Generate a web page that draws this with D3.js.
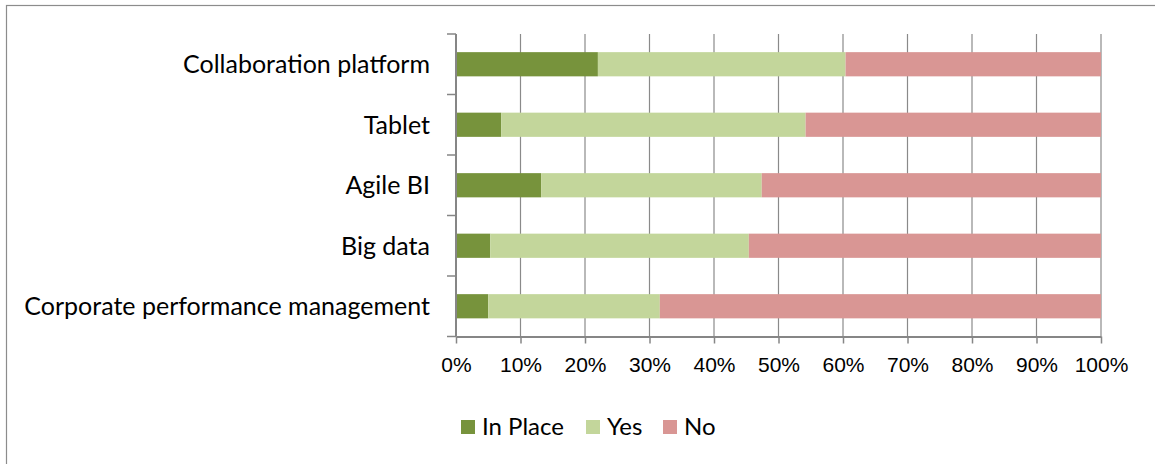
<!DOCTYPE html>
<html>
<head>
<meta charset="utf-8">
<script src="https://cdn.jsdelivr.net/npm/d3@7"></script>
<style>
  body { margin: 0; background: #fff; }
  svg { display: block; font-family: Lato, "Open Sans", sans-serif; }
</style>
</head>
<body>
<div id="chart"></div>
<script>
// data (percent of respondents)
var categories = ["Collaboration platform", "Tablet", "Agile BI", "Big data", "Corporate performance management"]
var series = ["In Place", "Yes", "No"]
var inPlace = [22.0, 7.0, 13.2, 5.3, 5.0]
var yes = [38.4, 47.2, 34.2, 40.1, 26.6]
var no = [39.6, 45.8, 52.6, 54.6, 68.4]
var colors = ["#77933C", "#C3D69B", "#D99694"]
var xTicks = [0, 0.1, 0.2, 0.3, 0.4, 0.5, 0.6, 0.7, 0.8, 0.9, 1]

var W = 1155, H = 464
var margin = { top: 34, left: 456, right: 54, bottom: 127.5 }
var width = W - margin.left - margin.right,
    height = H - margin.top - margin.bottom

var svg = d3.select("#chart").append("svg")
    .attr("width", W)
    .attr("height", H)

// outer frame
svg.append("rect")
    .attr("x", 6.5).attr("y", 5.5)
    .attr("width", W).attr("height", H)
    .attr("fill", "none")
    .attr("stroke", "#8c8c8c")
    .attr("stroke-width", 1.2)

var g = svg.append("g")
    .attr("transform", "translate(" + margin.left + "," + margin.top + ")")

// build the stacked table from the arrays
var rows = categories.map(function(c, i) {
    var total = inPlace[i] + yes[i] + no[i]
    return { cat: c, "In Place": inPlace[i] / total, "Yes": yes[i] / total, "No": no[i] / total }
})
var stacked = d3.stack().keys(series)(rows)

var x = d3.scaleLinear().domain([0, 1]).range([0, width])
var y = d3.scaleBand().domain(categories).range([0, height]).paddingInner(0.6).paddingOuter(0.3)
var yb = d3.scaleBand().domain(categories).range([0, height])

// vertical grid lines
g.append("g").selectAll("line")
    .data(xTicks.slice(1))
    .enter().append("line")
    .attr("x1", d => x(d)).attr("x2", d => x(d))
    .attr("y1", 0).attr("y2", height)
    .attr("stroke", "#8a8a8a")
    .attr("stroke-width", 1.2)

// bars
g.selectAll("g.series")
    .data(stacked)
    .enter().append("g")
    .attr("class", "series")
    .attr("fill", (d, i) => colors[i])
    .selectAll("rect")
    .data(d => d)
    .enter().append("rect")
    .attr("x", d => x(d[0]))
    .attr("y", d => y(d.data.cat))
    .attr("width", d => x(d[1]) - x(d[0]))
    .attr("height", y.bandwidth())

// x axis
var xAxis = g.append("g")
    .attr("transform", "translate(0," + height + ")")
    .call(d3.axisBottom(x).tickValues(xTicks).tickFormat(d3.format(".0%")).tickSize(7).tickSizeOuter(0).tickPadding(14))
xAxis.select(".domain").attr("stroke", "#868686").attr("stroke-width", 2)
xAxis.selectAll(".tick line").attr("stroke", "#868686").attr("stroke-width", 1.5)
xAxis.selectAll("text").attr("fill", "#000").style("font-size", "21px")

// y axis: ticks on band boundaries, labels in band centres
var yAxis = g.append("g")
yAxis.append("line")
    .attr("x1", 0).attr("x2", 0).attr("y1", 0).attr("y2", height)
    .attr("stroke", "#868686").attr("stroke-width", 2)
var bounds = categories.map(c => yb(c)).concat([height])
yAxis.selectAll("line.tk")
    .data(bounds)
    .enter().append("line")
    .attr("class", "tk")
    .attr("x1", -9).attr("x2", 0)
    .attr("y1", d => d).attr("y2", d => d)
    .attr("stroke", "#868686").attr("stroke-width", 1.5)
yAxis.selectAll("text")
    .data(categories)
    .enter().append("text")
    .attr("x", -26)
    .attr("y", d => yb(d) + yb.bandwidth() / 2)
    .attr("dy", "0.35em")
    .attr("text-anchor", "end")
    .style("font-size", "25px")
    .text(d => d)

// legend
var legendX = [461, 586, 663]
var legend = svg.append("g")
    .selectAll("g")
    .data(series)
    .enter().append("g")
    .attr("transform", (d, i) => "translate(" + legendX[i] + ",420)")
legend.append("rect")
    .attr("width", 14).attr("height", 14)
    .attr("fill", (d, i) => colors[i])
legend.append("text")
    .attr("x", 21)
    .attr("y", 7)
    .attr("dy", "0.35em")
    .style("font-size", "24px")
    .text(d => d)
</script>
</body>
</html>
